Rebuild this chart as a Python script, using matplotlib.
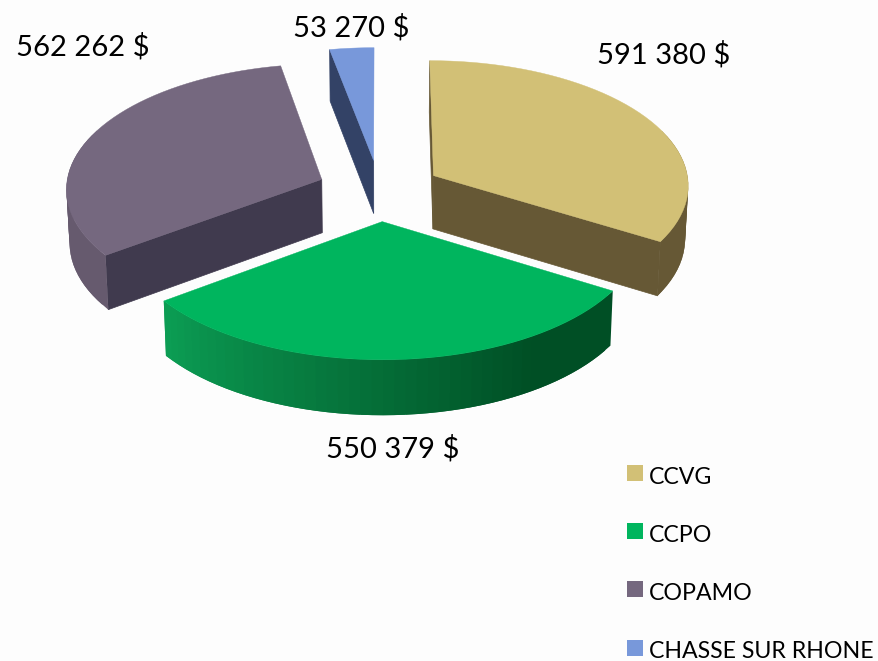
import numpy as np
import matplotlib
matplotlib.use("Agg")
import matplotlib.pyplot as plt
from matplotlib.patches import Polygon, Rectangle
from matplotlib.colors import to_rgb

categories = ["CCVG", "CCPO", "COPAMO", "CHASSE SUR RHONE"]
values = [591380, 550379, 562262, 53270]
top_colors = ["#D2C076", "#00B55E", "#75687F", "#7898DA"]
cut_colors = ["#665835", "#004F25", "#403A4E", "#334266"]
side_light = ["#665835", "#0C9F55", "#6A5D72", "#334266"]
side_dark = ["#665835", "#004F25", "#665A6E", "#334266"]
label_pos = [(597, 55), (326, 449), (16, 47), (293, 28)]
legend_y = [473, 531, 589, 648]
BG = "#FDFDFD"

CX, CY = 379.5, 190.5
RX, RY, PERSP = 256, 125.5, 0.068
EXPLODE = 0.244
DEPTH, DEPTH_K, SHRINK = 53.5, 0.03, 0.99

plt.rcParams["font.family"] = ["Lato", "DejaVu Sans"]
fig = plt.figure(figsize=(8.79, 6.61), dpi=100, facecolor=BG)
ax = fig.add_axes([0, 0, 1, 1])
ax.set_xlim(0, 879)
ax.set_ylim(661, 0)
ax.axis("off")


def project_top(wx, wy):
    s = 1 - PERSP * wy
    return CX + RX * wx * s, CY - RY * wy * s


def project_bottom(wx, wy):
    x, y = project_top(wx, wy)
    return CX + (x - CX) * SHRINK, y + DEPTH * (1 - DEPTH_K * wy)


angles = np.concatenate([[0], np.cumsum(values)]) / np.sum(values) * 2 * np.pi
order = [2, 3, 0, 1]
for i in order:
    a0, a1 = angles[i], angles[i + 1]
    mid = (a0 + a1) / 2
    ex, ey = EXPLODE * np.sin(mid), EXPLODE * np.cos(mid)
    ths = np.linspace(a0, a1, 49)
    wx, wy = ex + np.sin(ths), ey + np.cos(ths)
    xs, ys = project_top(wx, wy)
    xb, yb = project_bottom(wx, wy)
    tx, ty = project_top(ex, ey)
    bx, by = project_bottom(ex, ey)
    mx, my = project_top(ex + 0.5 * np.sin(mid), ey + 0.5 * np.cos(mid))
    # cut faces that look at the viewer
    for j in (0, -1):
        dx, dy = xs[j] - tx, ys[j] - ty
        if abs(dx) > 1 and dx * ((mx - tx) * 0 + 1) * (dx * (my - ty) - dy * (mx - tx)) < 0:
            ax.add_patch(Polygon([(tx, ty), (xs[j], ys[j]), (xb[j], yb[j]), (bx, by)],
                                 closed=True, fc=cut_colors[i], ec=cut_colors[i], lw=0.5))
    # outer side in shaded bands, each overlapping the next
    c0, c1 = np.array(to_rgb(side_dark[i])), np.array(to_rgb(side_light[i]))
    for k in range(len(ths) - 1):
        if np.cos(ths[k]) > 0.35 and np.cos(ths[k + 1]) > 0.35:
            continue
        t = np.clip((np.degrees(ths[k] - a0) - 25) / max(np.degrees(a1 - a0) - 25, 1), 0, 1)
        col = c0 + (c1 - c0) * t
        n = min(k + 2, len(ths) - 1)
        ax.add_patch(Polygon([(xs[k], ys[k]), (xs[n], ys[n]), (xb[n], yb[n]), (xb[k], yb[k])],
                             closed=True, fc=col, ec="none", lw=0))
    # top
    ax.add_patch(Polygon(np.column_stack([np.r_[tx, xs], np.r_[ty, ys]]),
                         closed=True, fc=top_colors[i], ec=top_colors[i], lw=0.3))

for v, (lx, ly) in zip(values, label_pos):
    ax.text(lx, ly, f"{v:,}".replace(",", " ") + " $", fontsize=21, color="#000000",
            ha="left", va="center")

for name, col, ly in zip(categories, top_colors, legend_y):
    ax.add_patch(Rectangle((627, ly - 8), 16, 16, fc=col, ec="none"))
    ax.text(649, ly + 4, name, fontsize=16.7, color="#000000", ha="left", va="center")

fig.savefig("out.png", dpi=100, facecolor=BG)
